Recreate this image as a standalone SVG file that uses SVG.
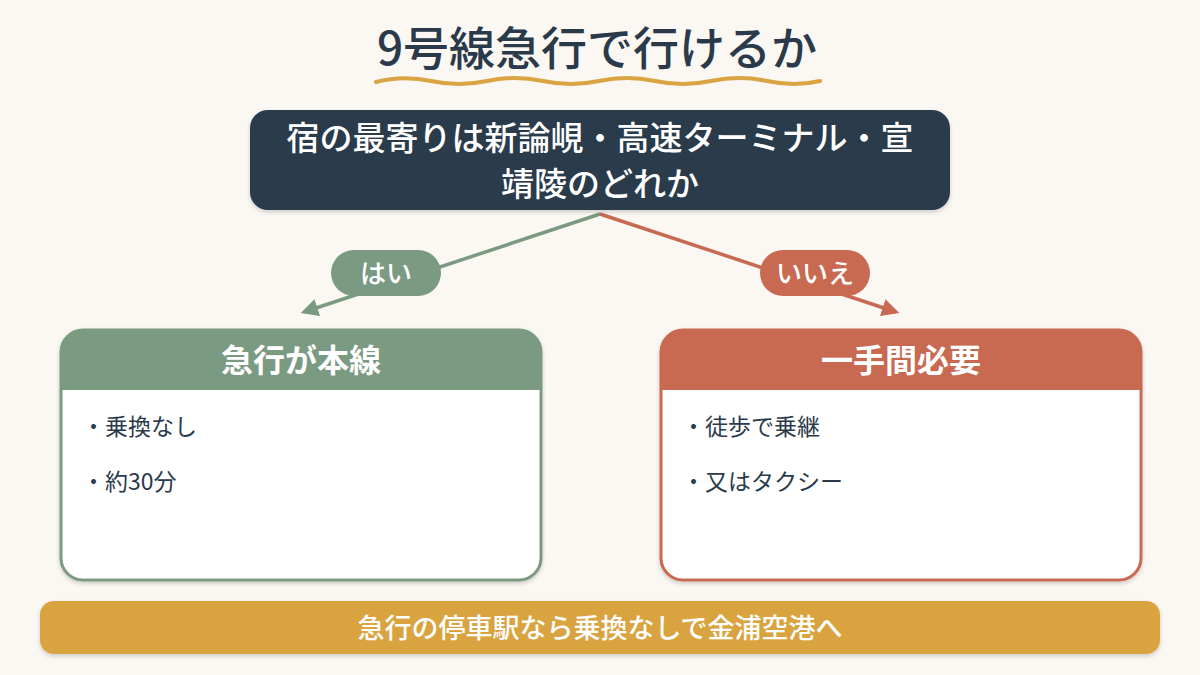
<svg xmlns="http://www.w3.org/2000/svg" width="1200" height="675" viewBox="0 0 1200 675">
<defs>
<style>
text{font-family:"Noto Sans CJK JP","Noto Sans",sans-serif;}
.title{font-size:46px;fill:#2B3A4A;font-weight:500;}
.q{font-size:33px;fill:#ffffff;font-weight:500;}
.pill{font-size:26px;fill:#ffffff;font-weight:500;}
.head{font-size:32px;fill:#ffffff;font-weight:700;}
.item{font-size:23px;fill:#2B3A4A;font-weight:400;}
.banner{font-size:27px;fill:#ffffff;font-weight:500;}
</style>
<marker id="arrG" viewBox="0 0 10 10" refX="8" refY="5" markerWidth="5" markerHeight="5" orient="auto" markerUnits="strokeWidth"><path d="M0,0 L10,5 L0,10 z" fill="#7B9A82"/></marker>
<marker id="arrR" viewBox="0 0 10 10" refX="8" refY="5" markerWidth="5" markerHeight="5" orient="auto" markerUnits="strokeWidth"><path d="M0,0 L10,5 L0,10 z" fill="#C86A51"/></marker>
<filter id="sh" x="-5%" y="-5%" width="110%" height="120%"><feDropShadow dx="0" dy="2" stdDeviation="2" flood-color="#000" flood-opacity="0.18"/></filter>
</defs>
<rect width="1200" height="675" fill="#FBF7F3"/>

<g id="title">
<text class="title" x="597" y="65" text-anchor="middle">9号線急行で行けるか</text>
<path d="M376,82 Q403,75 431,81 T487,81 T543,81 T599,81 T655,81 T711,81 T767,81 T820,81" fill="none" stroke="#D9A441" stroke-width="4" stroke-linecap="round"/>
</g>

<g id="connectors">
<line x1="600" y1="214" x2="304" y2="312" stroke="#7B9A82" stroke-width="3.5" marker-end="url(#arrG)"/>
<line x1="600" y1="214" x2="896" y2="312" stroke="#C86A51" stroke-width="3.5" marker-end="url(#arrR)"/>
</g>

<g id="question">
<rect x="250" y="110" width="700" height="100" rx="18" fill="#2B3A4B" filter="url(#sh)"/>
<text class="q" x="600" y="150" text-anchor="middle">宿の最寄りは新論峴・高速ターミナル・宣</text>
<text class="q" x="600" y="196" text-anchor="middle">靖陵のどれか</text>
</g>

<g id="label-yes">
<rect x="331" y="250" width="110" height="46" rx="23" fill="#7B9A82"/>
<text class="pill" x="386" y="283" text-anchor="middle">はい</text>
</g>

<g id="label-no">
<rect x="760" y="250" width="110" height="46" rx="23" fill="#C86A51"/>
<text class="pill" x="815" y="283" text-anchor="middle">いいえ</text>
</g>

<g id="card-yes">
<rect x="61" y="330" width="480" height="250" rx="22" fill="#ffffff" stroke="#7B9A82" stroke-width="3" filter="url(#sh)"/>
<path d="M61,390 V352 A22,22 0 0 1 83,330 H519 A22,22 0 0 1 541,352 V390 Z" fill="#7B9A82"/>
<text class="head" x="301" y="372" text-anchor="middle">急行が本線</text>
<text class="item" x="82" y="435">・乗換なし</text>
<text class="item" x="82" y="490">・約30分</text>
</g>

<g id="card-no">
<rect x="661" y="330" width="480" height="250" rx="22" fill="#ffffff" stroke="#C86A51" stroke-width="3" filter="url(#sh)"/>
<path d="M661,390 V352 A22,22 0 0 1 683,330 H1119 A22,22 0 0 1 1141,352 V390 Z" fill="#C86A51"/>
<text class="head" x="901" y="372" text-anchor="middle">一手間必要</text>
<text class="item" x="682" y="435">・徒歩で乗継</text>
<text class="item" x="682" y="490">・又はタクシー</text>
</g>

<g id="banner">
<rect x="40" y="601" width="1120" height="53" rx="14" fill="#D9A441" filter="url(#sh)"/>
<text class="banner" x="600" y="638" text-anchor="middle">急行の停車駅なら乗換なしで金浦空港へ</text>
</g>
</svg>
